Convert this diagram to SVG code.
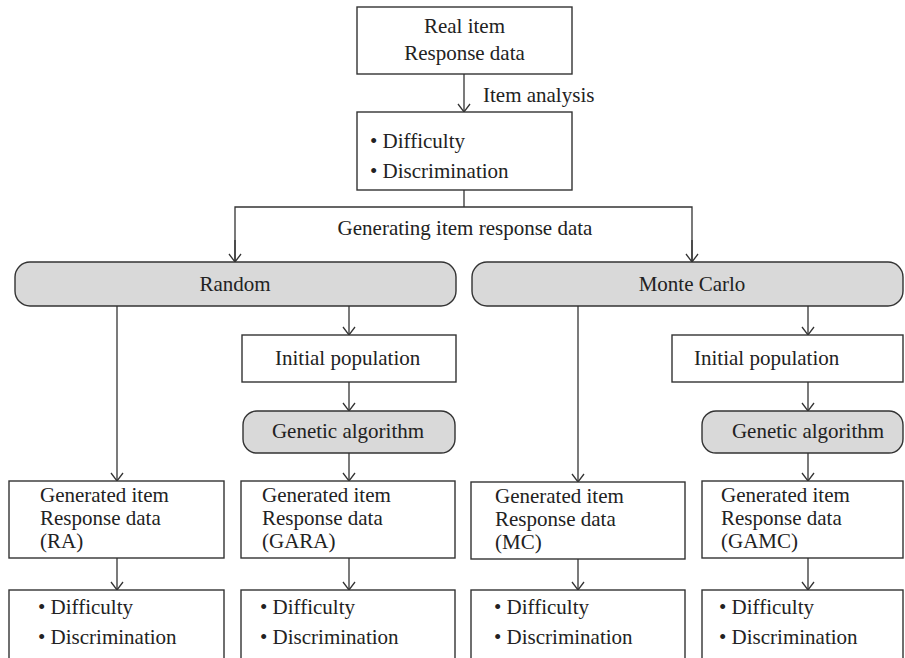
<svg xmlns="http://www.w3.org/2000/svg" width="905" height="658" viewBox="0 0 905 658">
<defs>
<marker id="arr" viewBox="-10 -7 12 14" refX="0" refY="0" markerWidth="12" markerHeight="14" markerUnits="userSpaceOnUse" orient="auto">
<path d="M-8,-6 L0,0 L-8,6" fill="none" stroke="#333" stroke-width="1.3"/>
</marker>
</defs>
<style>
.b{fill:#fff;stroke:#333;stroke-width:1.4}
.g{fill:#d9d9d9;stroke:#333;stroke-width:1.4}
.t{font-family:"Liberation Serif",serif;font-size:21px;fill:#222}
.m{text-anchor:middle}
.c{fill:none;stroke:#333;stroke-width:1.3}
.a{marker-end:url(#arr)}
</style>
<rect width="905" height="658" fill="#fff"/>
<g id="connectors">
<line class="c a" x1="464" y1="74" x2="464" y2="112"/>
<line class="c" x1="464" y1="190" x2="464" y2="207"/>
<polyline class="c" points="235,262 235,207 692,207 692,262" marker-start="none"/>
<line class="c a" x1="235" y1="240" x2="235" y2="262"/>
<line class="c a" x1="692" y1="240" x2="692" y2="262"/>
<line class="c a" x1="117" y1="306" x2="117" y2="481"/>
<line class="c a" x1="349" y1="306" x2="349" y2="335"/>
<line class="c a" x1="349" y1="382" x2="349" y2="411"/>
<line class="c a" x1="349" y1="453" x2="349" y2="481"/>
<line class="c a" x1="578" y1="306" x2="578" y2="482"/>
<line class="c a" x1="808" y1="306" x2="808" y2="335"/>
<line class="c a" x1="808" y1="382" x2="808" y2="411"/>
<line class="c a" x1="808" y1="453" x2="808" y2="481"/>
<line class="c a" x1="117" y1="558" x2="117" y2="590"/>
<line class="c a" x1="349" y1="558" x2="349" y2="590"/>
<line class="c a" x1="578" y1="559" x2="578" y2="590"/>
<line class="c a" x1="808" y1="558" x2="808" y2="590"/>
<text class="t" x="483" y="102">Item analysis</text>
<text class="t m" x="465" y="235">Generating item response data</text>
</g>
<g id="real">
<rect class="b" x="357" y="7" width="215" height="67"/>
<text class="t m" x="464.5" y="33">Real item</text>
<text class="t m" x="464.5" y="60">Response data</text>
</g>
<g id="params">
<rect class="b" x="357" y="112" width="215" height="78"/>
<text class="t" x="370" y="148">• Difficulty</text>
<text class="t" x="370" y="178">• Discrimination</text>
</g>
<g id="random">
<rect class="g" x="15" y="262" width="441" height="44" rx="15"/>
<text class="t m" x="235" y="291">Random</text>
</g>
<g id="montecarlo">
<rect class="g" x="472" y="262" width="431" height="44" rx="15"/>
<text class="t m" x="692" y="291">Monte Carlo</text>
</g>
<g id="init1">
<rect class="b" x="242" y="335" width="214" height="47"/>
<text class="t" x="275" y="365">Initial population</text>
</g>
<g id="init2">
<rect class="b" x="672" y="335" width="231" height="47"/>
<text class="t" x="694" y="365">Initial population</text>
</g>
<g id="ga1">
<rect class="g" x="243" y="411" width="212" height="42" rx="14"/>
<text class="t m" x="348" y="438">Genetic algorithm</text>
</g>
<g id="ga2">
<rect class="g" x="702" y="411" width="201" height="42" rx="14"/>
<text class="t m" x="808" y="438">Genetic algorithm</text>
</g>
<g id="ra">
<rect class="b" x="9" y="481" width="215" height="77"/>
<text class="t" x="40" y="502">Generated item</text>
<text class="t" x="40" y="525">Response data</text>
<text class="t" x="40" y="548">(RA)</text>
</g>
<g id="gara">
<rect class="b" x="241" y="481" width="214" height="77"/>
<text class="t" x="262" y="502">Generated item</text>
<text class="t" x="262" y="525">Response data</text>
<text class="t" x="262" y="548">(GARA)</text>
</g>
<g id="mc">
<rect class="b" x="471" y="482" width="214" height="77"/>
<text class="t" x="495" y="503">Generated item</text>
<text class="t" x="495" y="526">Response data</text>
<text class="t" x="495" y="549">(MC)</text>
</g>
<g id="gamc">
<rect class="b" x="702" y="481" width="201" height="77"/>
<text class="t" x="721" y="502">Generated item</text>
<text class="t" x="721" y="525">Response data</text>
<text class="t" x="721" y="548">(GAMC)</text>
</g>
<g id="p1">
<rect class="b" x="9" y="590" width="215" height="90"/>
<text class="t" x="38" y="614">• Difficulty</text>
<text class="t" x="38" y="644">• Discrimination</text>
</g>
<g id="p2">
<rect class="b" x="241" y="590" width="214" height="90"/>
<text class="t" x="260" y="614">• Difficulty</text>
<text class="t" x="260" y="644">• Discrimination</text>
</g>
<g id="p3">
<rect class="b" x="471" y="590" width="214" height="90"/>
<text class="t" x="494" y="614">• Difficulty</text>
<text class="t" x="494" y="644">• Discrimination</text>
</g>
<g id="p4">
<rect class="b" x="702" y="590" width="201" height="90"/>
<text class="t" x="719" y="614">• Difficulty</text>
<text class="t" x="719" y="644">• Discrimination</text>
</g>
</svg>
